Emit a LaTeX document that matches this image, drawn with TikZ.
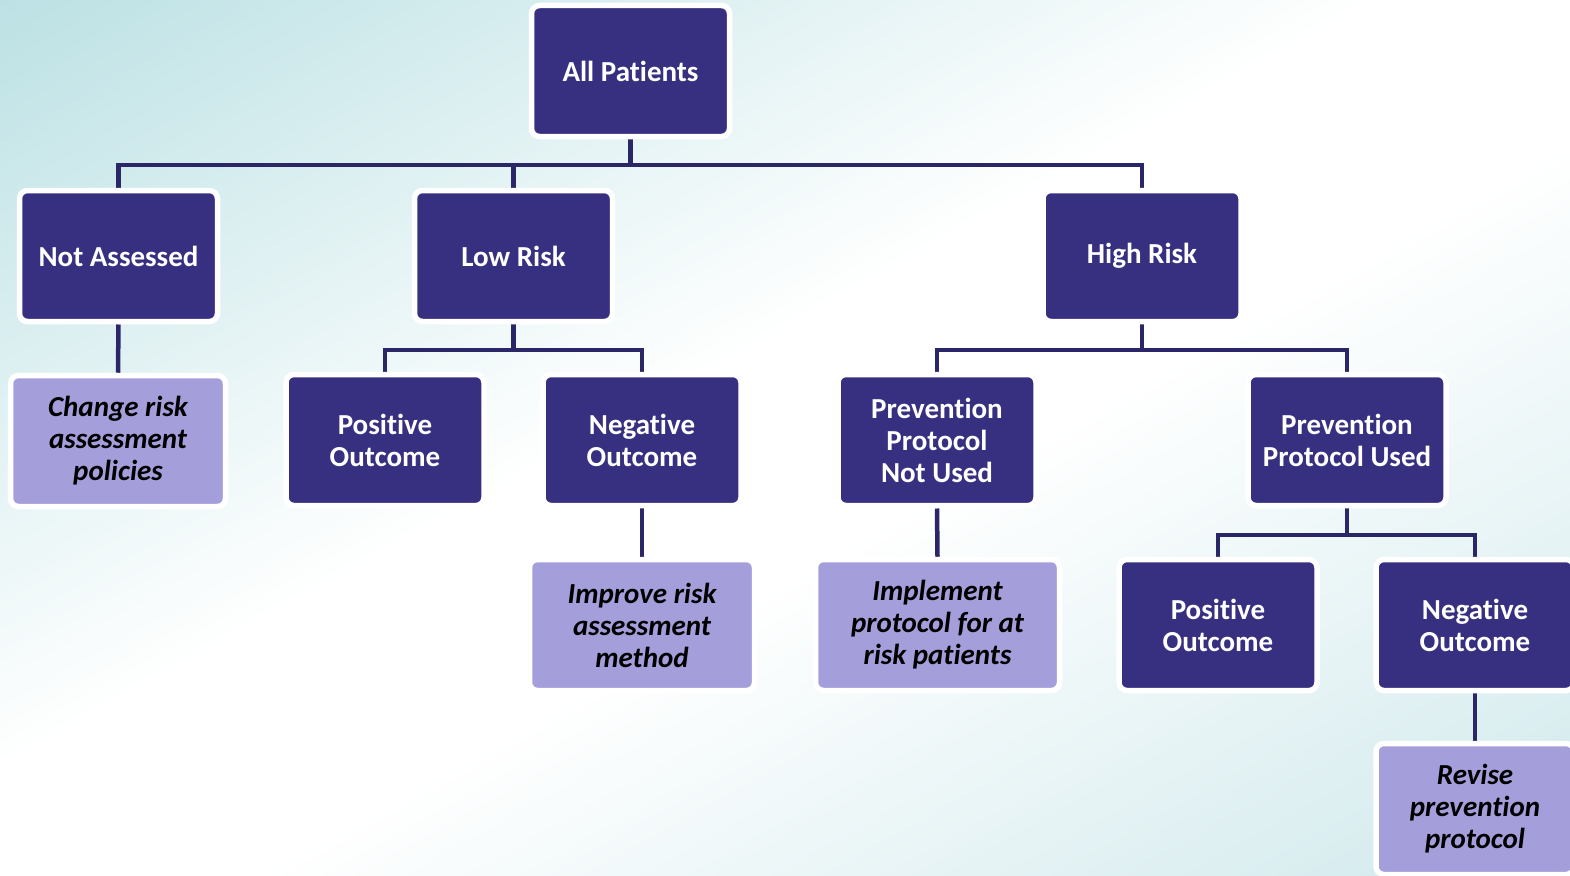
\documentclass[tikz,border=0pt]{standalone}
\usepackage{fontspec}
\setmainfont[Ligatures=NoCommon, RawFeature={-liga;-clig;-calt}]{Carlito}
\usetikzlibrary{calc}
\pgfdeclarelayer{bg}
\pgfdeclarelayer{links}
\pgfsetlayers{bg,links,main}
\definecolor{darkfill}{RGB}{55,48,128}
\definecolor{lightfill}{RGB}{164,158,219}
\definecolor{lineC}{RGB}{43,38,104}
\definecolor{tealbg}{RGB}{188,225,228}
\definecolor{tealbg2}{RGB}{208,233,236}
\pgfdeclarehorizontalshading{bgsh}{100bp}{color(0bp)=(tealbg); color(25bp)=(tealbg); color(47bp)=(white); color(54bp)=(white); color(75bp)=(tealbg2); color(100bp)=(tealbg2)}
\begin{document}
\begin{tikzpicture}[x=1pt,y=-1pt,
  box/.style={rectangle, rounded corners=8pt, draw=white, line width=5.5pt,
    minimum width=198pt, minimum height=131pt, align=center, inner sep=0pt,
    font=\fontsize{29}{32}\selectfont\bfseries},
  darkbox/.style={box, fill=darkfill, text=white},
  lightbox/.style={box, fill=lightfill, text=black,
    font=\fontsize{29}{32}\selectfont\bfseries\itshape},
  conn/.style={draw=lineC, line width=4.5pt, line join=miter}]
\useasboundingbox (0,0) rectangle (1570,875);
\begin{pgfonlayer}{bg}
\begin{scope}
\clip (0,0) rectangle (1570,875);
\begin{scope}[transform canvas={rotate=-60.87}]
\shade[shading=bgsh] (0,-2000) rectangle (1528.6,2000);
\end{scope}
\end{scope}
\end{pgfonlayer}

\node[darkbox] (ap) at (630.5,71) {All Patients};
\node[darkbox] (na) at (118.5,256) {Not Assessed};
\node[darkbox] (lr) at (513.5,256) {Low Risk};
\node[darkbox] (hr) at (1142,256) {High Risk};
\node[lightbox, minimum width=215pt] (cr) at (118,441) {Change risk\\assessment\\policies};
\node[darkbox] (po1) at (385,440) {Positive\\Outcome};
\node[darkbox] (no1) at (642,440) {Negative\\Outcome};
\node[darkbox] (pnu) at (937,440) {Prevention\\Protocol\\Not Used};
\node[darkbox] (pu) at (1347,440) {Prevention\\Protocol Used};
\node[lightbox, minimum width=225pt] (ir) at (642,625) {Improve risk\\assessment\\method};
\node[lightbox, minimum width=244pt] (ip) at (937.5,625) {Implement\\protocol for at\\risk patients};
\node[darkbox] (po2) at (1218,625) {Positive\\Outcome};
\node[darkbox] (no2) at (1475,625) {Negative\\Outcome};
\node[lightbox] (rp) at (1475,809) {Revise\\prevention\\protocol};

\begin{pgfonlayer}{links}
\draw[conn] (ap.south) -- ++(0,25.5) -| (na.north);
\draw[conn] (ap.south) -- ++(0,25.5) -| (lr.north);
\draw[conn] (ap.south) -- ++(0,25.5) -| (hr.north);
\draw[conn] (na.south) -- (cr.north);
\draw[conn] (lr.south) -- ++(0,25.5) -| (po1.north);
\draw[conn] (lr.south) -- ++(0,25.5) -| (no1.north);
\draw[conn] (no1.south) -- (ir.north);
\draw[conn] (hr.south) -- ++(0,25.5) -| (pnu.north);
\draw[conn] (hr.south) -- ++(0,25.5) -| (pu.north);
\draw[conn] (pnu.south) -- (ip.north);
\draw[conn] (pu.south) -- ++(0,26.5) -| (po2.north);
\draw[conn] (pu.south) -- ++(0,26.5) -| (no2.north);
\draw[conn] (no2.south) -- (rp.north);
\end{pgfonlayer}
\end{tikzpicture}
\end{document}
